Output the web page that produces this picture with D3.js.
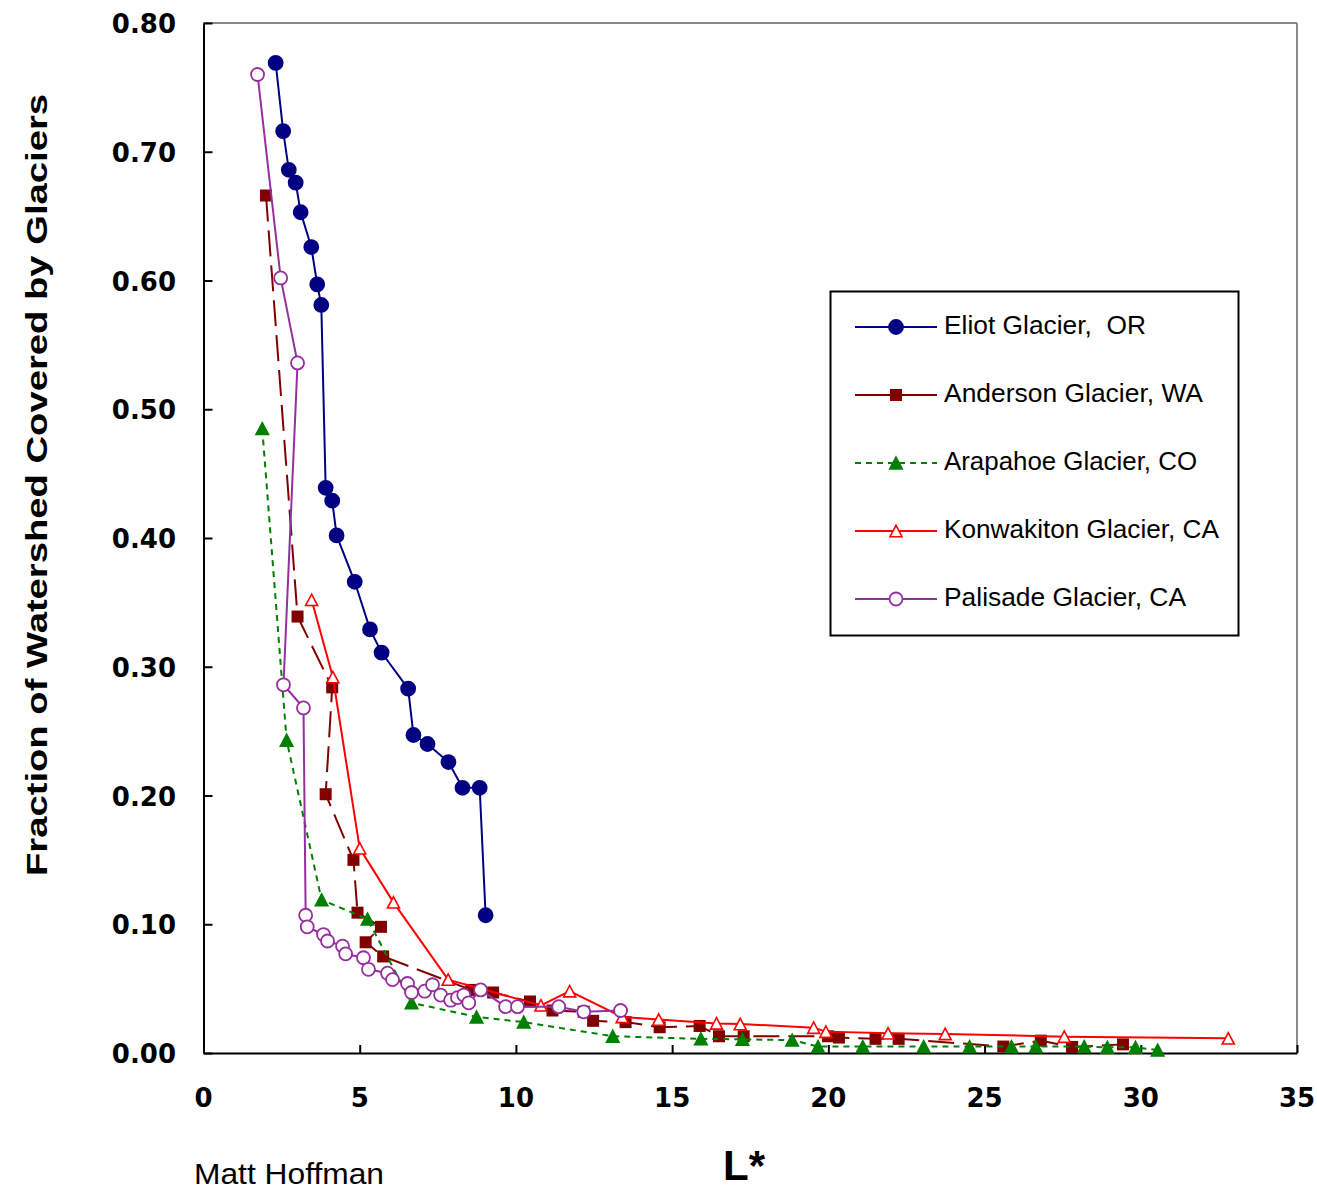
<!DOCTYPE html>
<html>
<head>
<meta charset="utf-8">
<script src="https://cdn.jsdelivr.net/npm/d3@7"></script>
<style>
  body { margin: 0; background: #fff; }
  text { white-space: pre; }
</style>
</head>
<body>
<div id="main"></div>
<script>
// data: [L*, fraction]
var eliot = [[2.31,0.769],[2.55,0.716],[2.73,0.686],[2.95,0.676],[3.11,0.653],[3.45,0.626],[3.64,0.597],
  [3.77,0.581],[3.91,0.439],[4.12,0.429],[4.26,0.402],[4.84,0.366],[5.33,0.329],[5.70,0.311],[6.55,0.283],
  [6.72,0.247],[7.17,0.240],[7.84,0.226],[8.29,0.206],[8.84,0.206],[9.03,0.107]];
var anderson = [[2.00,0.666],[3.01,0.339],[4.12,0.284],[3.91,0.201],[4.80,0.150],[4.93,0.109],[5.68,0.098],
  [5.19,0.086],[5.75,0.075],[8.57,0.049],[9.27,0.047],[10.45,0.040],[11.17,0.033],[12.17,0.032],[12.47,0.025],
  [13.51,0.024],[14.60,0.020],[15.88,0.021],[16.50,0.013],[17.29,0.013],[19.99,0.013],[20.34,0.012],
  [21.51,0.011],[22.25,0.011],[25.60,0.005],[26.80,0.0096],[27.80,0.0047],[29.43,0.0067]];
var arapahoe = [[1.88,0.485],[2.66,0.243],[3.78,0.119],[5.25,0.104],[6.66,0.039],[8.74,0.028],[10.25,0.024],
  [13.10,0.013],[15.92,0.011],[17.25,0.0106],[18.84,0.010],[19.67,0.005],[21.10,0.005],[23.05,0.005],
  [24.52,0.005],[25.86,0.005],[26.64,0.005],[28.19,0.005],[28.93,0.0044],[29.83,0.0044],[30.54,0.0023]];
var konwakiton = [[3.46,0.352],[4.14,0.292],[5.00,0.159],[6.08,0.117],[7.83,0.057],[10.80,0.037],[11.72,0.048],
  [13.40,0.028],[14.57,0.026],[16.42,0.023],[17.18,0.0225],[19.53,0.0197],[19.92,0.0166],[21.91,0.0153],
  [23.74,0.0148],[27.55,0.0127],[32.80,0.0114]];
var palisade = [[1.73,0.760],[2.47,0.602],[3.01,0.536],[2.56,0.286],[3.20,0.268],[3.27,0.107],[3.32,0.098],
  [3.84,0.092],[3.97,0.087],[4.45,0.083],[4.55,0.077],[5.12,0.074],[5.28,0.065],[5.89,0.062],[6.05,0.057],
  [6.53,0.054],[6.66,0.047],[7.08,0.048],[7.33,0.053],[7.59,0.045],[7.91,0.041],[8.13,0.043],[8.33,0.045],
  [8.49,0.039],[8.87,0.049],[9.67,0.036],[10.05,0.036],[11.37,0.036],[12.17,0.032],[13.35,0.033]];

var seriesNames = ["Eliot Glacier,  OR", "Anderson Glacier, WA", "Arapahoe Glacier, CO",
  "Konwakiton Glacier, CA", "Palisade Glacier, CA"];
var xTicks = [0, 5, 10, 15, 20, 25, 30, 35];
var yTicks = [0, 0.1, 0.2, 0.3, 0.4, 0.5, 0.6, 0.7, 0.8];

var W = 1317, H = 1191;
var plotL = 203.5, plotR = 1297, plotT = 23, plotB = 1053;

var x = d3.scaleLinear().domain([0, 35]).range([plotL, plotR]);
var y = d3.scaleLinear().domain([0, 0.8]).range([plotB, plotT]);

var svg = d3.select('#main').append('svg')
    .attr('width', W).attr('height', H)
    .style('font-family', 'Liberation Sans, Arial, sans-serif');

// marker shapes
function tri(s) {
  var h = s * 0.95;
  return 'M0,' + (-h / 2) + 'L' + (s / 2) + ',' + (h / 2) + 'L' + (-s / 2) + ',' + (h / 2) + 'Z';
}
var styles = [
  {data: eliot, color: '#000080', dash: null, mark: 'circle', fill: '#000080'},
  {data: anderson, color: '#800000', dash: '26,9', mark: 'square', fill: '#800000'},
  {data: arapahoe, color: '#008000', dash: '6,5', mark: 'tri', fill: '#008000'},
  {data: konwakiton, color: '#ff0000', dash: null, mark: 'tri', fill: '#fff'},
  {data: palisade, color: '#962f9e', dash: null, mark: 'circle', fill: '#fff'}
];

function drawMark(g, st, cx, cy) {
  if (st.mark === 'circle') {
    g.append('circle').attr('cx', cx).attr('cy', cy)
      .attr('r', st.fill === '#fff' ? 6.5 : 7)
      .attr('fill', st.fill).attr('stroke', st.color).attr('stroke-width', 1.8);
  } else if (st.mark === 'square') {
    g.append('rect').attr('x', cx - 6).attr('y', cy - 6).attr('width', 12).attr('height', 12)
      .attr('fill', st.fill);
  } else {
    g.append('path').attr('d', tri(st.fill === '#fff' ? 12 : 12.5))
      .attr('transform', 'translate(' + cx + ',' + cy + ')')
      .attr('fill', st.fill).attr('stroke', st.color).attr('stroke-width', 1.6);
  }
}

// frame
svg.append('line').attr('x1', plotL).attr('x2', plotR).attr('y1', plotT).attr('y2', plotT)
  .attr('stroke', '#8a8a8a').attr('stroke-width', 2);
svg.append('line').attr('x1', plotR).attr('x2', plotR).attr('y1', plotT).attr('y2', plotB)
  .attr('stroke', '#8a8a8a').attr('stroke-width', 2);

// axes with inward ticks
var xAxis = svg.append('g').attr('transform', 'translate(0,' + plotB + ')')
  .call(d3.axisBottom(x).tickValues(xTicks).tickSizeInner(-8).tickSizeOuter(0).tickFormat(''));
var yAxis = svg.append('g').attr('transform', 'translate(' + plotL + ',0)')
  .call(d3.axisLeft(y).tickValues(yTicks).tickSizeInner(-9).tickSizeOuter(0).tickFormat(''));
[xAxis, yAxis].forEach(function(a) {
  a.select('.domain').attr('stroke', '#000').attr('stroke-width', 2);
  a.selectAll('.tick line').attr('stroke', '#000').attr('stroke-width', 2);
});

svg.append('g').selectAll('text').data(xTicks).enter().append('text')
  .attr('x', function(d) { return x(d); }).attr('y', 1107)
  .attr('text-anchor', 'middle')
  .style('font-family', 'DejaVu Sans, Verdana, sans-serif').style('font-weight', 'bold').style('font-size', '26px')
  .text(function(d) { return d; });

svg.append('g').selectAll('text').data(yTicks).enter().append('text')
  .attr('x', 176).attr('y', function(d) { return y(d) + 10; })
  .attr('text-anchor', 'end')
  .style('font-family', 'DejaVu Sans, Verdana, sans-serif').style('font-weight', 'bold').style('font-size', '26px')
  .text(function(d) { return d.toFixed(2); });

// series
var line = d3.line().x(function(d) { return x(d[0]); }).y(function(d) { return y(d[1]); });
styles.forEach(function(st) {
  var g = svg.append('g');
  g.append('path').attr('d', line(st.data)).attr('fill', 'none')
    .attr('stroke', st.color).attr('stroke-width', 2)
    .attr('stroke-dasharray', st.dash);
  st.data.forEach(function(d) { drawMark(g, st, x(d[0]), y(d[1])); });
});

// legend
var lg = svg.append('g');
lg.append('rect').attr('x', 830.5).attr('y', 291.5).attr('width', 408).attr('height', 344)
  .attr('fill', '#fff').attr('stroke', '#000').attr('stroke-width', 2);
var legWidths = [202, 259, 253, 275, 242];
styles.forEach(function(st, i) {
  var ly = 327 + i * 68;
  lg.append('line').attr('x1', 855).attr('x2', 937).attr('y1', ly).attr('y2', ly)
    .attr('stroke', st.color).attr('stroke-width', 2)
    .attr('stroke-dasharray', i === 2 ? '6,5' : null);
  drawMark(lg, st, 896, ly);
  lg.append('text').attr('x', 944).attr('y', ly + 7)
    .attr('textLength', legWidths[i]).attr('lengthAdjust', 'spacingAndGlyphs')
    .style('font-size', '26px').attr('fill', '#000')
    .text(seriesNames[i]);
});

// titles
svg.append('text').attr('transform', 'translate(47,485) rotate(-90)')
  .attr('text-anchor', 'middle')
  .attr('textLength', 782).attr('lengthAdjust', 'spacingAndGlyphs')
  .style('font-weight', 'bold').style('font-size', '30px')
  .text('Fraction of Watershed Covered by Glaciers');

svg.append('text').attr('x', 723).attr('y', 1180)
  .attr('textLength', 42).attr('lengthAdjust', 'spacingAndGlyphs')
  .style('font-weight', 'bold').style('font-size', '42px')
  .text('L*');

svg.append('text').attr('x', 194).attr('y', 1184)
  .attr('textLength', 190).attr('lengthAdjust', 'spacingAndGlyphs')
  .style('font-size', '30px')
  .text('Matt Hoffman');
</script>
</body>
</html>
